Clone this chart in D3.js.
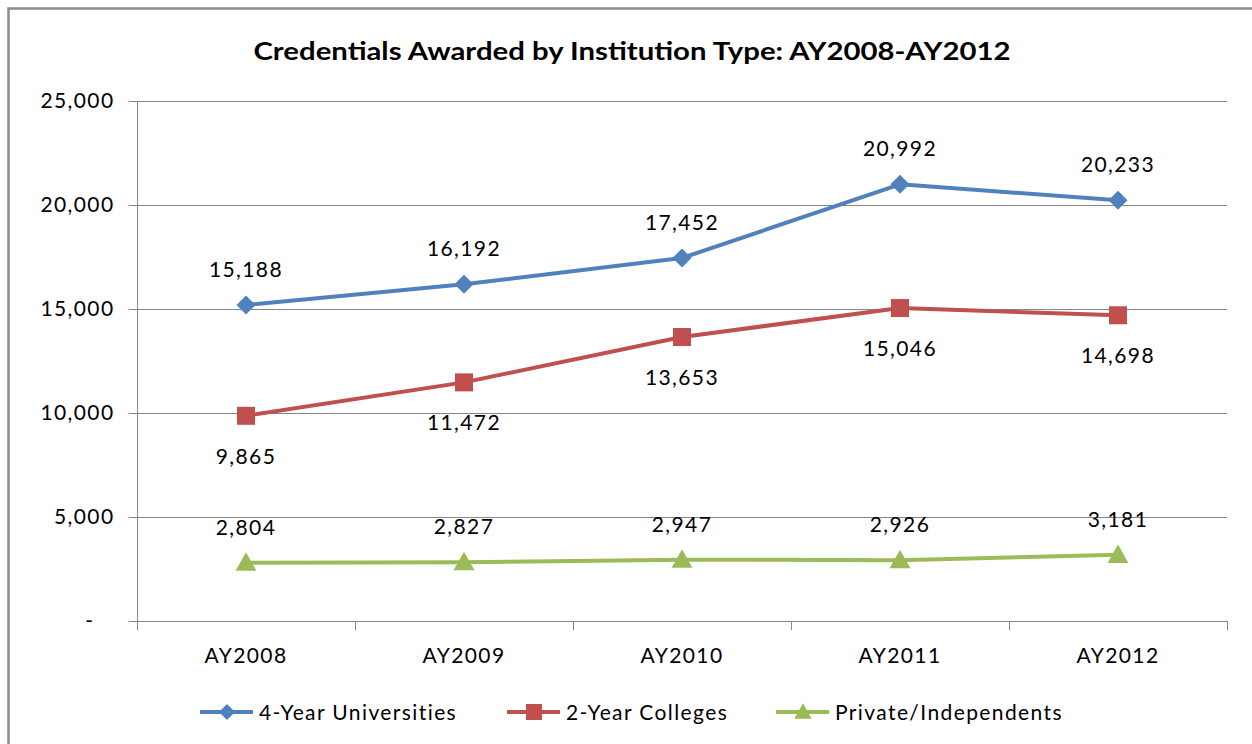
<!DOCTYPE html>
<html><head><meta charset="utf-8">
<script src="https://cdn.jsdelivr.net/npm/d3@7"></script>
<style>body{margin:0;background:#fff}svg{display:block}text{font-family:Lato,"Liberation Sans",sans-serif;fill:#000;letter-spacing:1.4px}</style>
</head><body>
<svg id="c" width="1252" height="744"></svg>
<script>
const categories = ["AY2008","AY2009","AY2010","AY2011","AY2012"];
const universities = [15188,16192,17452,20992,20233];
const colleges = [9865,11472,13653,15046,14698];
const privates = [2804,2827,2947,2926,3181];
const yTicks = [0,5000,10000,15000,20000,25000];
const seriesNames = ["4-Year Universities","2-Year Colleges","Private/Independents"];

const series = [
  {name:seriesNames[0], values:universities, color:"#4F81BD", marker:"diamond", labelPos:"above"},
  {name:seriesNames[1], values:colleges, color:"#C0504D", marker:"square", labelPos:"below"},
  {name:seriesNames[2], values:privates, color:"#9BBB59", marker:"triangle", labelPos:"above"}
];

const FS = 21;
const svg = d3.select("#c");
svg.append("rect").attr("x",8.5).attr("y",8.5).attr("width",1260).attr("height",760)
  .attr("fill","none").attr("stroke","#8c8c8c").attr("stroke-width",2.5);

const L=137, R=1227, T=101, B=621;
const x = d3.scaleBand().domain(categories).range([L,R]);
const y = d3.scaleLinear().domain([0,25000]).range([B,T]);

svg.append("text").attr("x",632).attr("y",60).attr("text-anchor","middle")
  .attr("font-size",24).attr("font-weight","bold").style("letter-spacing","0px")
  .attr("textLength",757).attr("lengthAdjust","spacingAndGlyphs")
  .text("Credentials Awarded by Institution Type: AY2008-AY2012");

svg.append("g").selectAll("line").data(yTicks.filter(d=>d>0)).join("line")
  .attr("x1",L).attr("x2",R).attr("y1",d=>y(d)+0.5).attr("y2",d=>y(d)+0.5)
  .attr("stroke","#868686").attr("stroke-width",1);

const fmt = d=> d===0 ? "-" : d3.format(",")(d);
const ya = svg.append("g").attr("transform",`translate(${L+0.5},0)`)
  .call(d3.axisLeft(y).tickValues(yTicks).tickFormat(fmt).tickSize(9).tickPadding(14));
ya.select(".domain").attr("stroke","#868686").attr("d",`M0,${T}V${B}`);
ya.selectAll(".tick line").attr("stroke","#868686");
ya.selectAll(".tick text").attr("font-size",FS).attr("fill","#000").attr("font-family","Lato,'Liberation Sans',sans-serif");
ya.selectAll(".tick").filter(d=>d===0).select("text").attr("dx",-20);

const xa = svg.append("g").attr("transform",`translate(0,${B+0.5})`)
  .call(d3.axisBottom(x).tickSize(0).tickPadding(27));
xa.select(".domain").attr("stroke","#868686").attr("d",`M${L},0H${R}`);
xa.selectAll(".tick text").attr("font-size",FS).attr("fill","#000").attr("font-family","Lato,'Liberation Sans',sans-serif");
const bounds = categories.map(c=>x(c)).concat([R]);
svg.append("g").selectAll("line").data(bounds).join("line")
  .attr("x1",d=>Math.round(d)+0.5).attr("x2",d=>Math.round(d)+0.5).attr("y1",B).attr("y2",B+9)
  .attr("stroke","#868686");

const cx = c=> x(c)+x.bandwidth()/2;

function marker(g, type, color, px, py, s){
  if(type==="diamond"){
    g.append("path").attr("d",`M${px},${py-s}L${px+s},${py}L${px},${py+s}L${px-s},${py}Z`).attr("fill",color);
  } else if(type==="square"){
    g.append("rect").attr("x",px-s).attr("y",py-s).attr("width",2*s).attr("height",2*s).attr("fill",color);
  } else {
    g.append("path").attr("d",`M${px},${py-s*1.1}L${px+s*1.1},${py+s*0.85}L${px-s*1.1},${py+s*0.85}Z`).attr("fill",color);
  }
}

const line = d3.line().x(d=>cx(d.c)).y(d=>y(d.v));
series.forEach(s=>{
  const pts = categories.map((c,i)=>({c, v:s.values[i]}));
  const g = svg.append("g");
  g.append("path").datum(pts).attr("d",line).attr("fill","none").attr("stroke",s.color).attr("stroke-width",4).attr("stroke-linejoin","round");
  const ms = s.marker==="diamond"?9.5:(s.marker==="square"?9:9.5);
  pts.forEach(p=>marker(g, s.marker, s.color, cx(p.c), y(p.v), ms));
  g.selectAll("text").data(pts).join("text")
    .attr("x",d=>cx(d.c)).attr("y",d=>y(d.v) + (s.labelPos==="above" ? -28 : 48))
    .attr("text-anchor","middle").attr("font-size",FS)
    .text(d=>d3.format(",")(d.v));
});

const legendX = [200,507,776];
series.forEach((s,i)=>{
  const g = svg.append("g");
  const ly = 712;
  g.append("line").attr("x1",legendX[i]).attr("x2",legendX[i]+53).attr("y1",ly).attr("y2",ly).attr("stroke",s.color).attr("stroke-width",4);
  marker(g, s.marker, s.color, legendX[i]+27, ly, 8);
  g.append("text").attr("x",legendX[i]+59).attr("y",ly+8).attr("font-size",FS).text(s.name);
});
</script>
</body></html>
